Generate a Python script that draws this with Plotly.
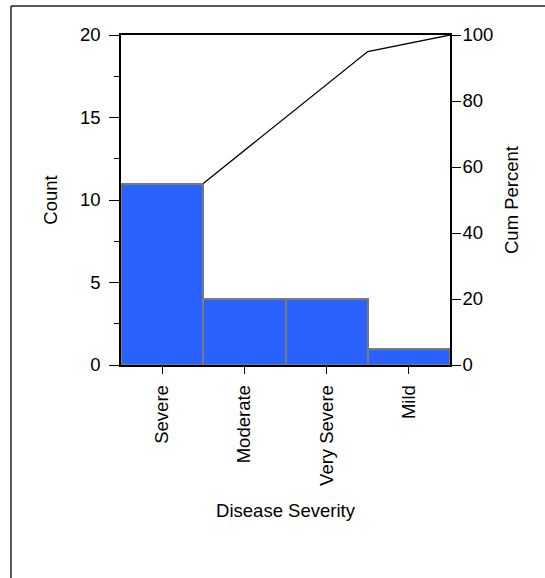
import numpy as np
import plotly.graph_objects as go

# Pareto data: disease severity categories sorted by frequency
categories = ["Severe", "Moderate", "Very Severe", "Mild"]
counts = [11, 4, 4, 1]

total = sum(counts)
cum_percent = list(np.cumsum(counts) / total * 100)
positions = list(range(len(categories)))
right_edges = [p + 0.5 for p in positions]

FONT = "Liberation Sans, Arial, Helvetica, sans-serif"

W, H = 545, 578
L, R, T, B = 121, 95, 35, 213
plot_w = W - L - R
plot_h = H - T - B

fig = go.Figure()

fig.add_trace(go.Bar(
    x=positions,
    y=counts,
    width=1.0,
    marker=dict(color="#2962FF", line=dict(color="#7a7a7a", width=2)),
    showlegend=False,
    hoverinfo="x+y",
))

# Cumulative percent line, anchored at the right edge of each bar
fig.add_trace(go.Scatter(
    x=right_edges,
    y=cum_percent,
    yaxis="y2",
    mode="lines",
    line=dict(color="black", width=1.3),
    showlegend=False,
))

# Outer frame around the report area
def px_to_paper_x(px):
    return (px - L) / plot_w

def px_to_paper_y(py):
    return (H - B - py) / plot_h

frame_left, frame_top = 11, 6
fig.add_shape(type="line", xref="paper", yref="paper",
              x0=px_to_paper_x(frame_left), x1=px_to_paper_x(W + 5),
              y0=px_to_paper_y(frame_top), y1=px_to_paper_y(frame_top),
              line=dict(color="#222", width=1.5), layer="above")
fig.add_shape(type="line", xref="paper", yref="paper",
              x0=px_to_paper_x(frame_left), x1=px_to_paper_x(frame_left),
              y0=px_to_paper_y(frame_top), y1=px_to_paper_y(H + 5),
              line=dict(color="#222", width=1.5), layer="above")

axis_font = dict(family=FONT, size=18.5, color="black")
title_font = dict(family=FONT, size=18.5, color="black")

fig.update_layout(
    width=W, height=H,
    margin=dict(l=L, r=R, t=T, b=B, pad=0),
    paper_bgcolor="white",
    plot_bgcolor="white",
    bargap=0,
    font=dict(family=FONT, color="black"),
    xaxis=dict(
        range=[-0.5, len(categories) - 0.5],
        tickmode="array",
        tickvals=positions,
        ticktext=categories,
        tickangle=-90,
        ticks="outside", ticklen=7, tickwidth=1.3, tickcolor="black",
        ticklabelstandoff=4,
        tickfont=axis_font,
        showline=True, linecolor="black", linewidth=1.5, mirror=True,
        showgrid=False, zeroline=False,
        title=dict(text="Disease Severity", font=title_font, standoff=19),
    ),
    yaxis=dict(
        range=[0, 20],
        tickvals=[0, 5, 10, 15, 20],
        ticks="outside", ticklen=10, tickwidth=1.3, tickcolor="black",
        ticklabelstandoff=5,
        minor=dict(tickvals=[2.5, 7.5, 12.5, 17.5], ticks="outside",
                   ticklen=5, tickwidth=1.3, tickcolor="black", showgrid=False),
        tickfont=axis_font,
        showline=True, linecolor="black", linewidth=1.5,
        showgrid=False, zeroline=False,
        title=dict(text="Count", font=title_font, standoff=17),
    ),
    yaxis2=dict(
        range=[0, 100],
        tickvals=[0, 20, 40, 60, 80, 100],
        overlaying="y", side="right",
        ticks="outside", ticklen=9, tickwidth=1.3, tickcolor="black",
        ticklabelstandoff=-2,
        tickfont=axis_font,
        showline=True, linecolor="black", linewidth=1.5,
        showgrid=False, zeroline=False,
        title=dict(text="Cum Percent", font=title_font, standoff=13),
    ),
)

fig.write_html("out.html")
